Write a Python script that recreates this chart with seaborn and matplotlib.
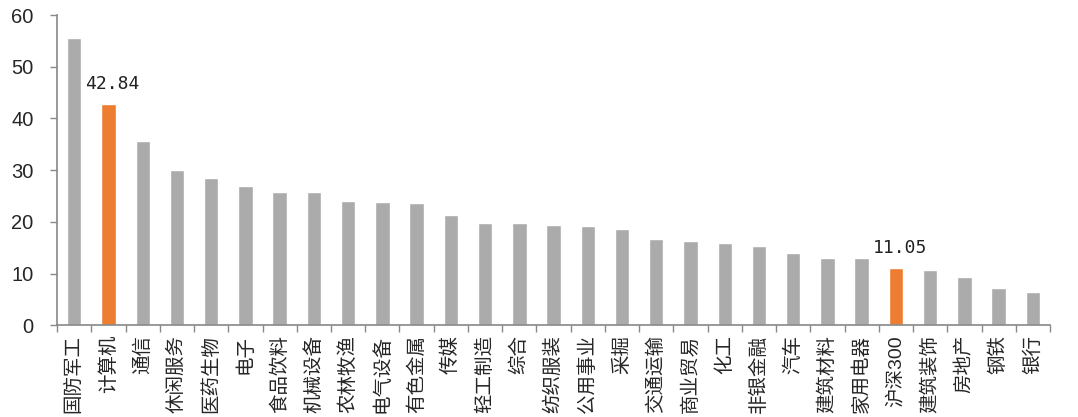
import pandas as pd
import matplotlib
matplotlib.use('Agg')
import matplotlib.pyplot as plt
import seaborn as sns

# ---------------  Data  ------------
industries = ['国防军工', '计算机', '通信', '休闲服务', '医药生物', '电子', '食品饮料',
              '机械设备', '农林牧渔', '电气设备', '有色金属', '传媒', '轻工制造', '综合',
              '纺织服装', '公用事业', '采掘', '交通运输', '商业贸易', '化工', '非银金融',
              '汽车', '建筑材料', '家用电器', '沪深300', '建筑装饰', '房地产', '钢铁', '银行']
pe_values = [55.5, 42.84, 35.7, 30.1, 28.4, 27.0, 25.7, 25.7, 24.1, 23.8, 23.6, 21.4,
             19.8, 19.8, 19.4, 19.1, 18.7, 16.7, 16.3, 15.9, 15.4, 14.0, 13.1, 13.1,
             11.05, 10.7, 9.25, 7.25, 6.5]
highlight = ['计算机', '沪深300']

df = pd.DataFrame({'industry': industries, 'pe': pe_values})
grey = '#ABABAB'
orange = '#ED7D31'
palette = {name: (orange if name in highlight else grey) for name in industries}

# -----------  Set up the plot  --------------
sns.set_style('white')
plt.rcParams['font.family'] = ['Liberation Sans', 'Noto Sans CJK SC', 'DejaVu Sans']

fig, ax = plt.subplots(figsize=(10.78, 4.17), dpi=100)
fig.subplots_adjust(left=0.053, right=0.974, top=0.964, bottom=0.22)

sns.barplot(data=df, x='industry', y='pe', hue='industry', palette=palette,
            width=0.42, legend=False, ax=ax, saturation=1)

# value labels on the highlighted bars
for name in highlight:
    i = industries.index(name)
    ax.annotate(f'{pe_values[i]:.2f}', (i, pe_values[i]), xytext=(3, 8),
                textcoords='offset points', ha='center', va='bottom', fontsize=13,
                family=['DejaVu Sans Mono'], color='#222222')

ax.set_ylim(0, 60)
ax.set_xlim(-0.5, len(industries) - 0.5)
ax.set_yticks(range(0, 61, 10))
ax.set_xlabel('')
ax.set_ylabel('')

# tick marks sit between categories
ax.set_xticks(range(len(industries)))
ax.set_xticklabels(industries, rotation=90, fontsize=14, va='top', ha='center')
ax.set_xticks([i + 0.5 for i in range(-1, len(industries))], minor=True)
ax.tick_params(axis='x', which='minor', bottom=True, length=5, width=1,
               color='#888888', direction='out')
ax.tick_params(axis='x', which='major', bottom=True, length=0, pad=7)
ax.tick_params(axis='y', left=True, length=5, width=1, color='#888888',
               direction='out', labelsize=14.5, pad=12)

for side in ['top', 'right']:
    ax.spines[side].set_visible(False)
for side in ['left', 'bottom']:
    ax.spines[side].set_color('#888888')
    ax.spines[side].set_linewidth(1.2)

plt.savefig('out.png', dpi=100)
